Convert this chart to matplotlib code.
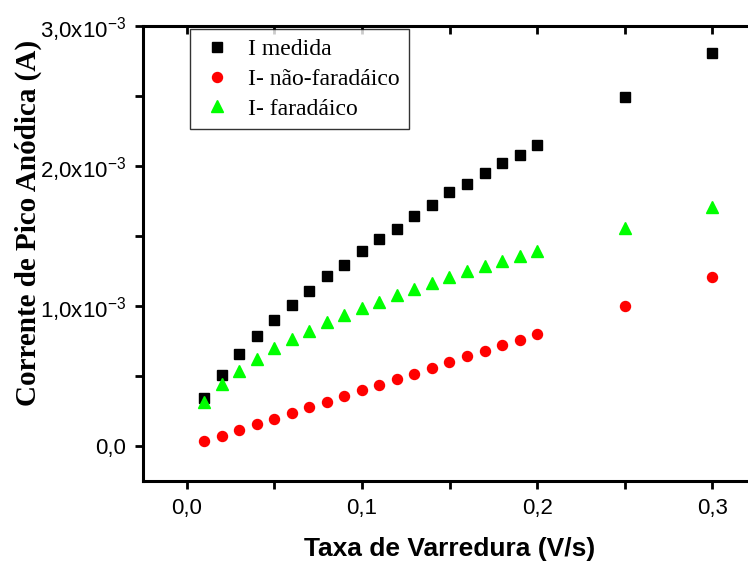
import matplotlib
matplotlib.use("Agg")
import matplotlib.pyplot as plt
from matplotlib.ticker import MultipleLocator, FuncFormatter

# Scan rate (V/s)
scan_rate = [0.01, 0.02, 0.03, 0.04, 0.05, 0.06, 0.07, 0.08, 0.09, 0.10,
             0.11, 0.12, 0.13, 0.14, 0.15, 0.16, 0.17, 0.18, 0.19, 0.20,
             0.25, 0.30]

# Anodic peak currents (units of 1e-3 A)
i_medida = [0.341, 0.510, 0.656, 0.787, 0.897, 1.007, 1.105, 1.217, 1.296, 1.396,
            1.475, 1.553, 1.641, 1.720, 1.811, 1.870, 1.949, 2.021, 2.081, 2.152,
            2.493, 2.804]
i_nao_faradaico = [0.035, 0.075, 0.115, 0.155, 0.195, 0.235, 0.277, 0.317, 0.357, 0.397,
                   0.437, 0.477, 0.517, 0.557, 0.600, 0.640, 0.680, 0.720, 0.760, 0.800,
                   1.000, 1.205]
i_faradaico = [0.313, 0.442, 0.539, 0.623, 0.697, 0.764, 0.825, 0.883, 0.936, 0.983,
               1.031, 1.081, 1.124, 1.165, 1.208, 1.248, 1.284, 1.324, 1.360, 1.394,
               1.558, 1.706]

series_labels = ["I medida", "I- não-faradáico", "I- faradáico"]
x_label = "Taxa de Varredura (V/s)"
y_label = "Corrente de Pico Anódica (A)"

SANS = "Liberation Sans"
SERIF = "Liberation Serif"

plt.rcParams["font.family"] = SANS
plt.rcParams["mathtext.fontset"] = "custom"
plt.rcParams["mathtext.rm"] = SANS

fig = plt.figure(figsize=(7.48, 5.62), dpi=100)
ax = fig.add_axes([143 / 748, 1 - 481 / 562, (756 - 143) / 748, (481 - 26) / 562])

scale = 1e-3
ax.plot(scan_rate, [v * scale for v in i_medida], linestyle="none", marker="s",
        markersize=6.8, color="black", label=series_labels[0])
ax.plot(scan_rate, [v * scale for v in i_nao_faradaico], linestyle="none", marker="o",
        markersize=7.2, color="#ff0000", label=series_labels[1])
ax.plot(scan_rate, [v * scale for v in i_faradaico], linestyle="none", marker="^",
        markersize=8.5, color="#00ff00", label=series_labels[2])

ax.set_xlim(-0.025, 0.325)
ax.set_ylim(-0.25e-3, 3.0e-3)

ax.xaxis.set_major_locator(MultipleLocator(0.1))
ax.xaxis.set_minor_locator(MultipleLocator(0.05))
ax.yaxis.set_major_locator(MultipleLocator(1e-3))
ax.yaxis.set_minor_locator(MultipleLocator(0.5e-3))


def fmt_x(v, pos):
    return f"{v:.1f}".replace(".", ",")


def fmt_y(v, pos):
    if abs(v) < 1e-12:
        return "0,0"
    m = v / 1e-3
    return f"{m:.1f}".replace(".", ",") + r"x10$^{-3}$"


ax.xaxis.set_major_formatter(FuncFormatter(fmt_x))
ax.yaxis.set_major_formatter(FuncFormatter(fmt_y))

for s in ax.spines.values():
    s.set_linewidth(2.2)

ax.tick_params(axis="both", which="both", direction="out", length=6, width=2.0,
               labelsize=16, pad=6)
ax.tick_params(top=True, right=True, which="both")
# Top and right ticks point into the frame
for t in ax.xaxis.get_major_ticks() + ax.xaxis.get_minor_ticks():
    t.tick2line.set_marker(3)  # TICKDOWN
    t.tick2line.set_markersize(6)
for t in ax.yaxis.get_major_ticks() + ax.yaxis.get_minor_ticks():
    t.tick2line.set_marker(0)  # TICKLEFT
    t.tick2line.set_markersize(6)

ax.set_xlabel(x_label, fontsize=19, fontweight="bold", family=SANS)
ax.xaxis.set_label_coords(0.5, -0.122)
ax.set_ylabel(y_label, fontsize=21, fontweight="bold", family=SERIF)
ax.yaxis.set_label_coords(-0.165, 0.567)

leg = ax.legend(loc="upper left", bbox_to_anchor=((190 - 143) / 613, 1 - 3 / 455),
                prop={"family": SERIF, "size": 17}, frameon=True, fancybox=False,
                borderpad=0.4, labelspacing=0.35, handletextpad=0.55,
                handlelength=1.5, borderaxespad=0.0, numpoints=1)
leg.get_frame().set_edgecolor("black")
leg.get_frame().set_linewidth(1.0)

fig.savefig("out.png", dpi=100)
